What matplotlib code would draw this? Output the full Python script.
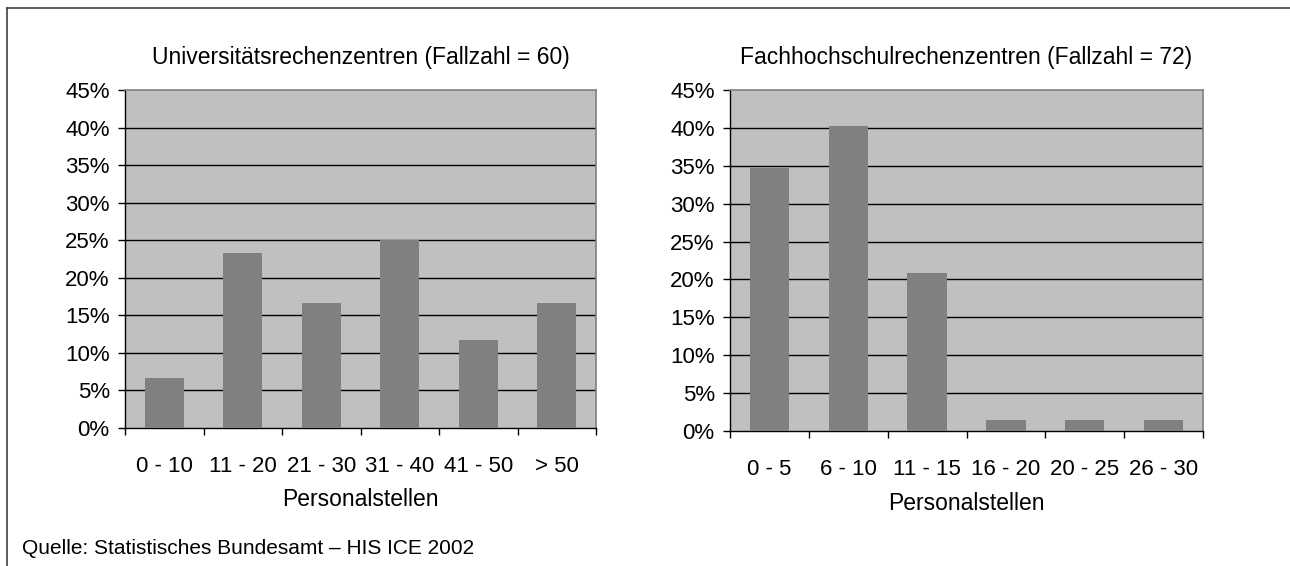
import numpy as np
import matplotlib.pyplot as plt
from matplotlib.lines import Line2D

plt.rcParams['font.family'] = ['Liberation Sans', 'DejaVu Sans']

# Universitaetsrechenzentren, n = 60
uni_labels = ['0 - 10', '11 - 20', '21 - 30', '31 - 40', '41 - 50', '> 50']
uni_counts = [4, 14, 10, 15, 7, 10]

# Fachhochschulrechenzentren, n = 72
fh_labels = ['0 - 5', '6 - 10', '11 - 15', '16 - 20', '20 - 25', '26 - 30']
fh_counts = [25, 29, 15, 1, 1, 1]

yticks = [0, 5, 10, 15, 20, 25, 30, 35, 40, 45]

W, H = 1290, 566
FS = 16
fig = plt.figure(figsize=(W / 100, H / 100), dpi=100)

def px(x0, y0, x1, y1):
    # pixel box -> figure fraction
    return [x0 / W, 1 - y1 / H, (x1 - x0) / W, (y1 - y0) / H]

def panel(box, labels, counts, title, lab_y):
    ax = fig.add_axes(px(*box))
    h = box[3] - box[1]
    n = sum(counts)
    vals = [100.0 * c / n for c in counts]
    x = np.arange(len(labels))
    ax.set_facecolor('#C0C0C0')
    ax.bar(x, vals, width=0.5, color='#808080', zorder=3)
    ax.set_xlim(-0.5, len(labels) - 0.5)
    ax.set_ylim(0, 45)
    ax.set_yticks(yticks)
    ax.set_yticklabels(['%d%%' % t for t in yticks], fontsize=FS)
    for t in yticks[1:-1]:
        ax.axhline(t, color='black', lw=1.0, zorder=1)
    # category boundary ticks, labels centred on bars
    ax.set_xticks(np.arange(len(labels) + 1) - 0.5)
    ax.set_xticklabels([])
    ax.set_xticks(x, minor=True)
    ax.set_xticklabels(labels, minor=True, fontsize=FS)
    ax.tick_params(axis='x', which='minor', length=0, pad=20)
    ax.tick_params(axis='x', which='major', length=5, width=1, direction='out')
    ax.tick_params(axis='y', length=5, width=1, direction='out', pad=6)
    for s in ['top', 'right']:
        ax.spines[s].set_color('#808080')
        ax.spines[s].set_linewidth(1.2)
    for s in ['left', 'bottom']:
        ax.spines[s].set_color('black')
        ax.spines[s].set_linewidth(1.0)
    ax.set_xlabel('Personalstellen', fontsize=FS + 0.5, va='center')
    ax.xaxis.set_label_coords(0.5, -(lab_y - box[3]) / h)
    ax.set_title(title, fontsize=FS + 0.5, pad=19)
    return ax

panel((125, 90, 596, 428), uni_labels, uni_counts,
      'Universitätsrechenzentren (Fallzahl = 60)', 500)
panel((730, 90, 1203, 431), fh_labels, fh_counts,
      'Fachhochschulrechenzentren (Fallzahl = 72)', 503)

fig.text(22 / W, 1 - 549 / H, 'Quelle: Statistisches Bundesamt – HIS ICE 2002',
         fontsize=15, va='center', ha='left')

# outer frame (top and left edges)
fig.add_artist(Line2D([7 / W, 1.0], [1 - 8 / H, 1 - 8 / H], color='#404040', lw=1.2))
fig.add_artist(Line2D([7 / W, 7 / W], [0.0, 1 - 8 / H], color='#404040', lw=1.2))

fig.savefig('out.png', dpi=100)
